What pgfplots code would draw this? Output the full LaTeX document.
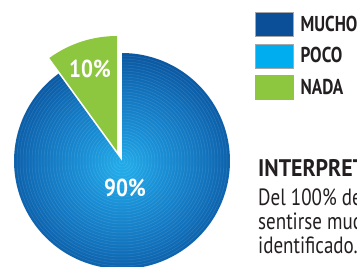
\documentclass[border=0pt]{standalone}
\usepackage{pgfplots}
\pgfplotsset{compat=1.18}
\usepackage{pgfplotstable}
\usepackage{fontspec}
\setmainfont{PT Sans}
\newfontfamily\condb[FakeStretch=0.80]{PT Sans}
\newfontfamily\condi[FakeStretch=0.91]{PT Sans}
\newfontfamily\condp[FakeStretch=0.86]{PT Sans}
\newfontfamily\condr[FakeStretch=0.81]{PT Sans}
\definecolor{mucho}{HTML}{0B4F99}
\definecolor{poco}{HTML}{00ADEF}
\definecolor{nada}{HTML}{8DC63F}
\definecolor{pieA}{HTML}{22A9E7}
\definecolor{pieB}{HTML}{1A90D6}
\definecolor{pieC}{HTML}{1272BC}
\definecolor{pieD}{HTML}{0A56A0}
\definecolor{txt}{HTML}{231F20}
\pgfdeclareradialshading{pieshade}{\pgfpoint{0bp}{0bp}}{color(0bp)=(pieA); color(1.5bp)=(pieA); color(8bp)=(pieB); color(17.5bp)=(pieC); color(25bp)=(pieD); color(50bp)=(pieD)}
\pgfplotstableread{
label value
MUCHO 90
POCO 0
NADA 10
}\piedata
\pgfplotstablegetelem{0}{value}\of\piedata \let\vMucho\pgfplotsretval
\pgfplotstablegetelem{2}{value}\of\piedata \let\vNada\pgfplotsretval
\pgfmathsetmacro{\aNadaEnd}{90+3.6*\vNada}
\pgfmathsetmacro{\aMuchoEnd}{\aNadaEnd+3.6*\vMucho}
\begin{document}
\begin{tikzpicture}
\path[use as bounding box] (0pt,0pt) rectangle (357pt,266pt);
\clip (0pt,0pt) rectangle (357pt,266pt);
\begin{axis}[
  at={(0pt,0pt)}, anchor=south west,
  scale only axis, width=357pt, height=266pt,
  xmin=0, xmax=357, ymin=0, ymax=266,
  enlargelimits=false, axis lines=none, clip=false,
  legend style={at={(axis cs:255,254)}, anchor=north west, draw=none, fill=none,
    inner sep=0pt, row sep=6.5pt, font=\condb\bfseries\fontsize{21.5}{23}\selectfont\color{txt}},
  legend cell align=left,
  legend image code/.code={\draw[#1, draw=gray!70, line width=0.8pt] (0pt,-12pt) rectangle (38pt,12pt); \path[draw=none, fill=none] (0pt,0pt) -- (43pt,0pt);},
]
\addlegendimage{fill=mucho}
\addlegendentry{MUCHO}
\addlegendimage{fill=poco}
\addlegendentry{POCO}
\addlegendimage{fill=nada}
\addlegendentry{NADA}
% MUCHO slice
\path[shading=pieshade] (axis cs:122,105) -- ++(\aNadaEnd:108pt) arc[start angle=\aNadaEnd, end angle=\aMuchoEnd, radius=108pt] -- cycle;
\pgfplotsinvokeforeach{3,6,...,108}{
  \draw[white, opacity=0.12, line width=0.5pt] (axis cs:122,105) ++(\aNadaEnd:#1pt) arc[start angle=\aNadaEnd, end angle=\aMuchoEnd, radius=#1pt];
}
% NADA slice (exploded)
\fill[nada] (axis cs:117,115) -- ++(90:115pt) arc[start angle=90, end angle=\aNadaEnd, radius=115pt] -- cycle;
\node[white, font=\condp\bfseries\fontsize{24.5}{26}\selectfont] at (axis cs:90,197) {10\%};
\node[white, font=\condp\bfseries\fontsize{24.5}{26}\selectfont] at (axis cs:125,78) {90\%};
% interpretation text
\node[anchor=base west, inner sep=0pt, txt, font=\condi\bfseries\fontsize{24}{26}\selectfont] at (axis cs:258,90) {INTERPRETACIÓN:};
\node[anchor=base west, inner sep=0pt, txt, font=\condr\fontsize{23.5}{25}\selectfont] at (axis cs:258,61) {Del 100\% de los};
\node[anchor=base west, inner sep=0pt, txt, font=\condr\fontsize{23.5}{25}\selectfont] at (axis cs:258,37) {sentirse mucho};
\node[anchor=base west, inner sep=0pt, txt, font=\condr\fontsize{23.5}{25}\selectfont] at (axis cs:258,13) {identificado.};
\end{axis}
\end{tikzpicture}
\end{document}
